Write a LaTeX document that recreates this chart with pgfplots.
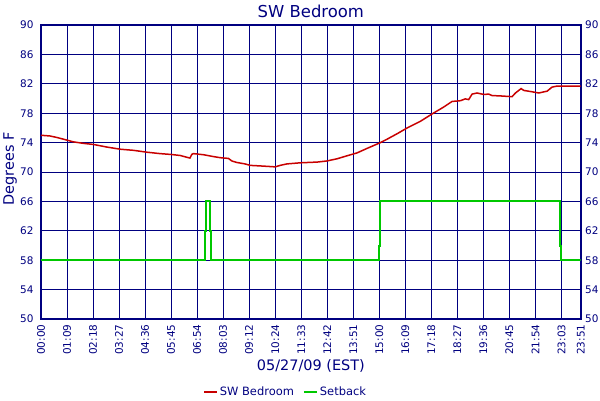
\documentclass[border=0pt]{standalone}
\usepackage{pgfplots}
\pgfplotsset{compat=1.18}
\usepackage{fontspec}
\setmainfont{DejaVu Sans}
\definecolor{navy}{RGB}{0,0,128}
\definecolor{tred}{RGB}{200,0,0}
\definecolor{tgreen}{RGB}{0,200,0}

\begin{document}
\begin{tikzpicture}[x=1bp,y=1bp]
\path[use as bounding box] (-41,-81) rectangle (559,319);
\pgfplotsset{
  base/.style={
    scale only axis, width=539.7bp, height=294bp,
    xmin=0, xmax=1431, ymin=50, ymax=90,
    ytick={50,54,...,90},
    major tick length=0pt,
    tick label style={font=\fontsize{10.5}{12}\selectfont, text=navy},
    /pgf/number format/assume math mode=true,
  }
}
\begin{axis}[base,
  at={(0,0)}, anchor=south west,
  xtick={0,69,138,207,276,345,414,483,552,621,690,759,828,897,966,1035,1104,1173,1242,1311,1380,1431},
  xticklabels={00:00,01:09,02:18,03:27,04:36,05:45,06:54,08:03,09:12,10:24,11:33,12:42,13:51,15:00,16:09,17:18,18:27,19:36,20:45,21:54,23:03,23:51},
  xticklabel style={rotate=90, anchor=east},
  xticklabel shift=2bp,
  yticklabel shift=4bp,
  grid=major,
  grid style={navy, line width=1bp},
  axis line style={navy, line width=1bp},
  y axis line style={line width=2.2bp},
  title={SW Bedroom},
  every axis title/.style={at={(rel axis cs:0.5,1)}, anchor=base, yshift=8bp, font=\fontsize{16.5}{19}\selectfont, text=navy},
  xlabel={05/27/09 (EST)},
  xlabel style={at={(rel axis cs:0.5,-0.16)}, anchor=center, font=\fontsize{14.5}{17}\selectfont, text=navy},
  ylabel={Degrees F},
  ylabel style={at={(rel axis cs:-0.0574,0.51)}, rotate=0, anchor=center, font=\fontsize{14.5}{17}\selectfont, text=navy},
  legend columns=2,
  legend style={at={(rel axis cs:0.295,-0.248)}, anchor=west, draw=none, fill=none,
    font=\fontsize{11.5}{13}\selectfont, text=navy,
    /tikz/every even column/.append style={column sep=7bp}},
  legend image code/.code={\draw[#1] (0bp,0bp) -- (13bp,0bp);},
  after end axis/.code={\draw[navy, line width=2bp] (rel axis cs:0,0) -- (rel axis cs:1,0);},
]
\addplot[tred, line width=1.5bp] coordinates {
(0,75.0)(24,74.9)(42,74.7)(68,74.35)(86,74.1)(112,73.9)(139,73.75)(174,73.4)
(210,73.1)(245,72.95)(280,72.7)(316,72.5)(342,72.4)(369,72.25)(387,72.0)(395,71.9)
(400,72.4)(404,72.5)(431,72.35)(457,72.1)(475,71.95)(497,71.85)(506,71.5)(519,71.3)
(541,71.1)(555,70.9)(590,70.8)(621,70.7)(634,70.9)(652,71.1)(687,71.25)(732,71.35)
(758,71.5)(785,71.8)(811,72.2)(838,72.6)(864,73.2)(891,73.8)(900,74.0)(917,74.45)
(944,75.2)(971,76.0)(1006,76.9)(1037,77.9)(1068,78.85)(1090,79.6)(1112,79.7)
(1125,79.95)(1134,79.85)(1143,80.6)(1156,80.75)(1174,80.55)(1187,80.6)(1196,80.4)
(1218,80.35)(1249,80.25)(1258,80.75)(1273,81.35)(1280,81.1)(1298,80.95)(1320,80.75)
(1333,80.9)(1342,81.0)(1355,81.55)(1369,81.7)(1396,81.7)(1431,81.7)
};
\addlegendentry{SW Bedroom}
\addplot[tgreen, line width=2bp] coordinates {
(0,58)(434,58)(434,62)(437,62)(437,66)(449,66)(449,62)(452,62)(452,58)
(897,58)(897,60)(899,60)(899,64)(900,64)(900,66)(1375,66)(1375,64)
(1377,64)(1377,60)(1380,60)(1380,58)(1431,58)
};
\addlegendentry{Setback}
\end{axis}
\begin{axis}[base,
  at={(0,0)}, anchor=south west,
  xtick=\empty,
  ytick pos=right, yticklabel pos=right,
  yticklabel shift=1bp,
  axis line style={draw=none},
]
\end{axis}
\end{tikzpicture}
\end{document}
